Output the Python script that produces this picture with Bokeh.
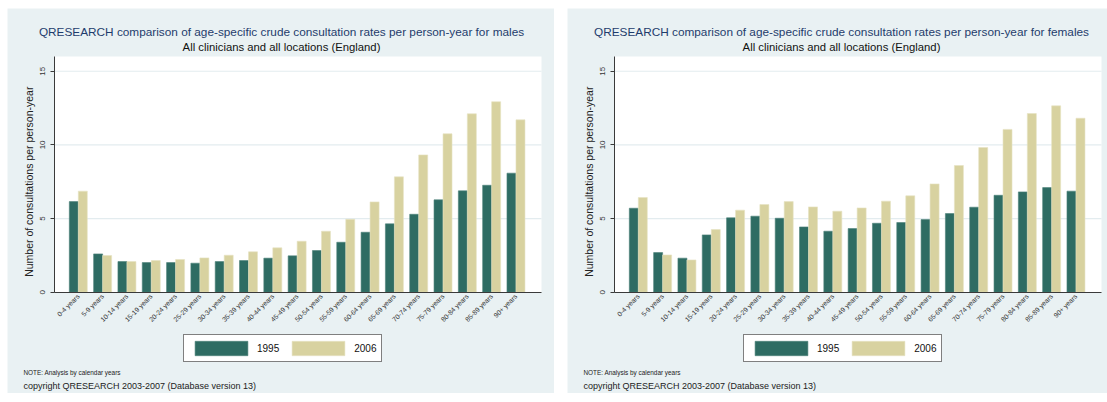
import math
from bokeh.plotting import figure
from bokeh.models import Range1d, FixedTicker, Legend, LegendItem, ColumnDataSource, Label
from bokeh.transform import dodge
from bokeh.layouts import row
from bokeh.embed import file_html
from bokeh.resources import INLINE

# ---------------- data ----------------
age_groups = ["0-4 years", "5-9 years", "10-14 years", "15-19 years", "20-24 years",
              "25-29 years", "30-34 years", "35-39 years", "40-44 years", "45-49 years",
              "50-54 years", "55-59 years", "60-64 years", "65-69 years", "70-74 years",
              "75-79 years", "80-84 years", "85-89 years", "90+ years"]
years = ["1995", "2006"]
males_1995 = [6.15, 2.60, 2.08, 2.01, 2.01, 1.97, 2.08, 2.15, 2.31, 2.47,
              2.83, 3.39, 4.07, 4.64, 5.29, 6.27, 6.88, 7.26, 8.08]
males_2006 = [6.86, 2.49, 2.08, 2.15, 2.22, 2.33, 2.51, 2.74, 3.01, 3.46,
              4.14, 4.95, 6.13, 7.83, 9.32, 10.75, 12.11, 12.93, 11.70]
females_1995 = [5.70, 2.69, 2.31, 3.89, 5.05, 5.16, 5.02, 4.43, 4.14, 4.32,
                4.68, 4.73, 4.93, 5.34, 5.77, 6.58, 6.81, 7.10, 6.86]
females_2006 = [6.43, 2.53, 2.19, 4.25, 5.57, 5.95, 6.15, 5.79, 5.50, 5.72,
                6.18, 6.54, 7.35, 8.60, 9.82, 11.05, 12.13, 12.65, 11.81]
y_ticks = [0, 5, 10, 15]

title_males = "QRESEARCH comparison of age-specific crude consultation rates per person-year for males"
title_females = "QRESEARCH comparison of age-specific crude consultation rates per person-year for females"
subtitle = "All clinicians and all locations (England)"
y_title = "Number of consultations per person-year"
note = "NOTE: Analysis by calendar years"
copyright_text = "copyright QRESEARCH 2003-2007 (Database version 13)"

# ---------------- style ----------------
BG = "#E9F1F3"
GRID = "#E3ECEF"
DARK = "#2E6C63"
KHAKI = "#D8D2A0"
NAVY = "#1E3C6C"
AXIS = "#3A3A3A"
FONT = "Liberation Sans"

# plot-area value limits
XA, XB = -1.0, 19.05
YA, YB = 0.0, 16.0
# plot-area placement inside each panel (pixels)
PL, PW = 46.5, 487.5
PT, PH = 48.0, 235.7
H = 385
SX = (XB - XA) / PW
SY = (YB - YA) / PH


def data_x(px):
    return XA + (px - PL) * SX


def data_y(py):
    return YB - (py - PT) * SY


def make_panel(title, v1995, v2006, width):
    p = figure(width=width, height=H, title=None,
               x_range=Range1d(data_x(0), data_x(width)),
               y_range=Range1d(data_y(H), data_y(0)),
               output_backend="svg", toolbar_location=None,
               min_border_left=0, min_border_right=0,
               min_border_top=0, min_border_bottom=0)
    p.border_fill_color = BG
    p.background_fill_color = BG
    p.outline_line_color = None
    p.xgrid.visible = False
    p.ygrid.visible = False

    # white plot region and horizontal grid lines
    p.quad(left=[XA], right=[XB], bottom=[YA], top=[YB], fill_color="white",
           line_color=None, level="image")
    p.segment(x0=XA, x1=XB, y0=y_ticks[1:], y1=y_ticks[1:], line_color=GRID,
              line_width=1.2, level="underlay")

    src = ColumnDataSource(dict(x=list(range(len(age_groups))), a=v1995, b=v2006))
    r1 = p.vbar(x=dodge("x", -0.185, range=p.x_range), top="a", width=0.37, source=src,
                fill_color=DARK, line_color="#4E8279", line_width=0.6)
    r2 = p.vbar(x=dodge("x", 0.185, range=p.x_range), top="b", width=0.37, source=src,
                fill_color=KHAKI, line_color="#E6E2C2", line_width=0.6)

    # y axis
    ya = p.yaxis[0]
    ya.fixed_location = XA
    ya.bounds = (YA, YB)
    ya.ticker = FixedTicker(ticks=y_ticks)
    ya.major_label_orientation = "vertical"
    ya.major_tick_out = 4
    ya.major_tick_in = 0
    ya.minor_tick_line_color = None
    ya.axis_line_color = AXIS
    ya.major_tick_line_color = AXIS
    ya.major_label_text_font = FONT
    ya.major_label_text_font_size = "8px"
    ya.major_label_text_color = "#333333"
    ya.major_label_standoff = 5

    # x axis
    xa = p.xaxis[0]
    xa.fixed_location = YA
    xa.bounds = (XA, XB)
    xa.ticker = FixedTicker(ticks=list(range(len(age_groups))))
    xa.major_label_overrides = {i: lab for i, lab in enumerate(age_groups)}
    xa.major_label_orientation = math.pi / 4
    xa.major_tick_line_color = None
    xa.major_tick_out = 0
    xa.major_tick_in = 0
    xa.minor_tick_line_color = None
    xa.axis_line_color = AXIS
    xa.axis_line_width = 1.2
    xa.major_label_text_font = FONT
    xa.major_label_text_font_size = "6.8px"
    xa.major_label_text_color = "#333333"
    xa.major_label_standoff = 3

    # texts
    p.add_layout(Label(x=data_x(274), y=data_y(23), text=title, text_align="center",
                       text_baseline="middle", text_font=FONT, text_font_size="11.8px",
                       text_color=NAVY))
    p.add_layout(Label(x=data_x(274), y=data_y(38), text=subtitle, text_align="center",
                       text_baseline="middle", text_font=FONT, text_font_size="11.3px",
                       text_color="#111111"))
    p.add_layout(Label(x=data_x(21), y=(y_ticks[0] + y_ticks[-1]) / 2, text=y_title,
                       angle=math.pi / 2, text_align="center", text_baseline="middle",
                       text_font=FONT, text_font_size="10.5px", text_color="#222222"))
    p.add_layout(Label(x=data_x(16), y=data_y(364), text=note, text_align="left",
                       text_baseline="middle", text_font=FONT, text_font_size="6.4px",
                       text_color="#222222"))
    p.add_layout(Label(x=data_x(16), y=data_y(377), text=copyright_text, text_align="left",
                       text_baseline="middle", text_font=FONT, text_font_size="9px",
                       text_color="#222222"))

    # legend (bar swatches)
    leg = Legend(items=[LegendItem(label=years[0], renderers=[r1]),
                        LegendItem(label=years[1], renderers=[r2])],
                 orientation="horizontal", location=(176, 31),
                 glyph_width=66, glyph_height=18, label_height=18, label_width=22,
                 spacing=6, padding=4, margin=0, label_standoff=3,
                 border_line_color="black", border_line_width=1,
                 background_fill_color="white", background_fill_alpha=1,
                 label_text_font=FONT, label_text_font_size="10px",
                 label_text_color="#111111")
    p.add_layout(leg, "center")
    return p


p1 = make_panel(title_males, males_1995, males_2006, 547)
p2 = make_panel(title_females, females_1995, females_2006, 540)
layout = row(p1, p2, spacing=13, margin=(8, 0, 0, 7))

open("out.html", "w").write(file_html(layout, INLINE))
